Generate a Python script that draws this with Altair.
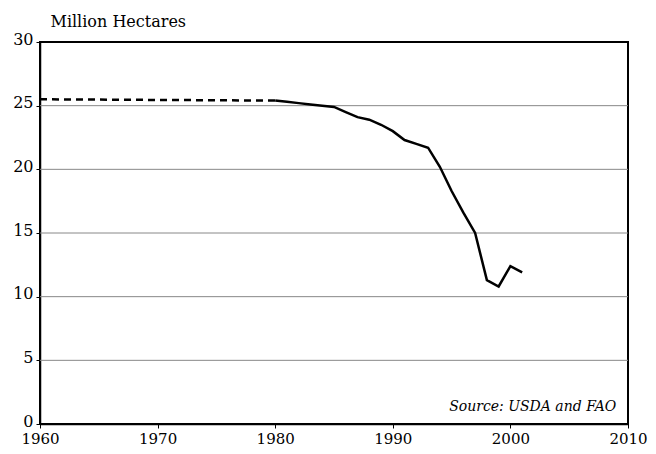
import altair as alt
import pandas as pd

# Historical (dashed) series
hist_years = [1960, 1980]
hist_values = [25.5, 25.4]

# Observed (solid) series
years = [1980, 1981, 1982, 1983, 1984, 1985, 1986, 1987, 1988, 1989, 1990,
         1991, 1992, 1993, 1994, 1995, 1996, 1997, 1998, 1999, 2000, 2001]
values = [25.4, 25.3, 25.2, 25.1, 25.0, 24.9, 24.5, 24.1, 23.9, 23.5, 23.0,
          22.3, 22.0, 21.7, 20.2, 18.3, 16.6, 15.0, 11.3, 10.8, 12.4, 11.9]

x_ticks = [1960, 1970, 1980, 1990, 2000, 2010]
y_ticks = [0, 5, 10, 15, 20, 25, 30]
grid_values = [5, 10, 15, 20, 25]
source_text = "Source: USDA and FAO"

FONT = "DejaVu Serif, Liberation Serif, serif"

hist_df = pd.DataFrame({"year": hist_years, "value": hist_values})
obs_df = pd.DataFrame({"year": years, "value": values})
grid_df = pd.DataFrame({"value": grid_values})

x_enc = alt.X("year:Q",
              scale=alt.Scale(domain=[1960, 2010], nice=False, zero=False),
              axis=alt.Axis(values=x_ticks, format="d", title=None, grid=False,
                            labelFontSize=15, labelFont=FONT, labelColor="black",
                            labelPadding=3, tickSize=4, tickColor="black",
                            domainColor="black", domainWidth=1.5,
                            labelFlush=False))
y_enc = alt.Y("value:Q",
              scale=alt.Scale(domain=[0, 30], nice=False),
              axis=alt.Axis(values=y_ticks, title="Million Hectares",
                            titleAngle=0, titleAlign="left", titleX=10, titleY=-16,
                            titleBaseline="alphabetic", titleFont=FONT,
                            titleFontSize=16, titleFontWeight="normal",
                            titleColor="black",
                            labelFontSize=16, labelFont=FONT, labelColor="black",
                            labelPadding=3, labelOffset=-3, tickSize=4,
                            tickColor="black",
                            domainColor="black", domainWidth=1.5,
                            grid=False))

grid = alt.Chart(grid_df).mark_rule(color="#888888", strokeWidth=1).encode(
    y=y_enc)
hist = alt.Chart(hist_df).mark_line(color="black", strokeWidth=2.5,
                                    strokeDash=[7, 5]).encode(x=x_enc, y="value:Q")
obs = alt.Chart(obs_df).mark_line(color="black", strokeWidth=2.5).encode(
    x="year:Q", y="value:Q")

src_df = pd.DataFrame({"year": [2009], "value": [1.3], "label": [source_text]})
src = alt.Chart(src_df).mark_text(align="right", baseline="middle",
                                  font=FONT, fontSize=14, fontStyle="italic",
                                  color="black").encode(
    x="year:Q", y="value:Q", text="label:N")

chart = alt.layer(grid, hist, obs, src).properties(
    width=588, height=382,
    background="white",
    autosize=alt.AutoSizeParams(type="none"),
    padding={"left": 32, "top": 34, "right": 20, "bottom": 24},
).configure_view(stroke="black", strokeWidth=2)

chart.save("out.html", embed_options={"renderer": "svg", "actions": False})
